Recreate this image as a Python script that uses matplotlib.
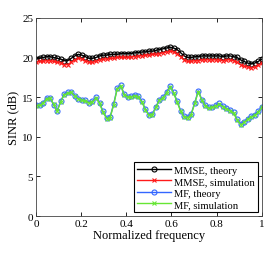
import numpy as np
import matplotlib
matplotlib.use("Agg")
from matplotlib import pyplot as plt

plt.rcParams['font.family'] = ['Liberation Serif', 'DejaVu Serif']

# normalized frequency grid (65 points)
freq = np.linspace(0, 1, 65)

mmse_theory = [19.8, 19.9, 20.0, 20.1, 20.1, 20.0, 19.9, 19.8, 19.6, 19.6,
               19.9, 20.2, 20.4, 20.3, 20.1, 19.9, 19.9, 20.0, 20.2, 20.3,
               20.3, 20.4, 20.4, 20.4, 20.5, 20.5, 20.5, 20.5, 20.6, 20.6,
               20.7, 20.7, 20.8, 20.8, 20.9, 21.0, 21.1, 21.2, 21.3, 21.2,
               21.0, 20.6, 20.2, 20.0, 20.0, 20.1, 20.1, 20.2, 20.2, 20.2,
               20.2, 20.2, 20.2, 20.1, 20.2, 20.2, 20.1, 20.0, 19.7, 19.5,
               19.3, 19.2, 19.3, 19.5, 19.8]
mmse_sim = [19.4, 19.5, 19.5, 19.6, 19.6, 19.5, 19.4, 19.3, 19.1, 19.1,
            19.4, 19.7, 19.9, 19.8, 19.6, 19.4, 19.4, 19.5, 19.7, 19.8,
            19.8, 19.9, 19.9, 20.0, 20.0, 20.0, 20.0, 20.1, 20.1, 20.2,
            20.2, 20.3, 20.3, 20.4, 20.4, 20.5, 20.6, 20.7, 20.8, 20.7,
            20.5, 20.1, 19.7, 19.5, 19.5, 19.6, 19.6, 19.7, 19.7, 19.7,
            19.7, 19.7, 19.7, 19.6, 19.7, 19.7, 19.6, 19.4, 19.1, 18.9,
            18.8, 18.7, 18.8, 19.0, 19.3]
mf_theory = [14.0, 14.0, 14.3, 14.9, 14.9, 14.0, 13.3, 14.5, 15.4, 15.6,
             15.6, 15.2, 14.8, 14.7, 14.6, 14.3, 14.5, 15.0, 14.3, 13.2,
             12.4, 12.5, 14.1, 16.1, 16.5, 15.4, 15.0, 15.1, 15.3, 15.1,
             14.5, 13.5, 12.8, 12.9, 13.8, 14.7, 15.0, 15.6, 16.4, 15.6,
             14.5, 13.3, 12.6, 12.5, 12.9, 14.3, 15.8, 14.7, 14.0, 13.7,
             13.8, 14.0, 14.2, 13.9, 13.6, 13.4, 13.1, 12.2, 11.6, 11.9,
             12.3, 12.6, 12.8, 13.2, 13.8]
mf_sim = [13.9, 14.0, 14.2, 14.8, 14.9, 14.1, 13.2, 14.4, 15.3, 15.5,
          15.6, 15.1, 14.8, 14.6, 14.5, 14.3, 14.4, 14.9, 14.2, 13.1,
          12.3, 12.4, 14.0, 16.0, 16.4, 15.3, 15.0, 15.0, 15.2, 15.0,
          14.4, 13.4, 12.7, 12.8, 13.7, 14.6, 14.9, 15.5, 16.3, 15.5,
          14.4, 13.2, 12.5, 12.4, 12.8, 14.2, 15.7, 14.6, 13.9, 13.6,
          13.7, 13.9, 14.1, 13.8, 13.5, 13.3, 13.0, 12.1, 11.5, 11.8,
          12.2, 12.5, 12.7, 13.1, 13.7]

fig = plt.figure(figsize=(2.77, 2.55), dpi=100)
ax = fig.add_axes([0.13, 0.149, 0.815, 0.777])

ax.plot(freq, mmse_theory, '-o', color='k', lw=1, ms=3.6, mew=0.8,
        mfc='none', label='MMSE, theory')
ax.plot(freq, mmse_sim, '-x', color='#ff1a1a', lw=1, ms=3.2, mew=0.8,
        label='MMSE, simulation')
ax.plot(freq, mf_theory, '-o', color='#3366ff', lw=1, ms=3.6, mew=0.8,
        mfc='none', label='MF, theory')
ax.plot(freq, mf_sim, '-x', color='#66e633', lw=1, ms=3.2, mew=0.8,
        label='MF, simulation')

ax.set_xlim(0, 1)
ax.set_ylim(0, 25)
ax.set_xticks([0, 0.2, 0.4, 0.6, 0.8, 1])
ax.set_xticklabels(['0', '0.2', '0.4', '0.6', '0.8', '1'])
ax.set_yticks([0, 5, 10, 15, 20, 25])
ax.tick_params(direction='in', top=True, right=True, labelsize=8,
               length=3, width=0.6, pad=2)
for s in ax.spines.values():
    s.set_linewidth(0.6)
    s.set_color('#444444')
ax.set_xlabel('Normalized frequency', fontsize=9, labelpad=1)
ax.set_ylabel('SINR (dB)', fontsize=9, labelpad=2)

leg = ax.legend(loc='lower right', fontsize=7.6, fancybox=False,
                edgecolor='k', framealpha=1, handlelength=3.2,
                borderpad=0.3, labelspacing=0.2, handletextpad=0.3,
                borderaxespad=0.35)
leg.get_frame().set_linewidth(0.8)

fig.savefig('out.png', dpi=100)
